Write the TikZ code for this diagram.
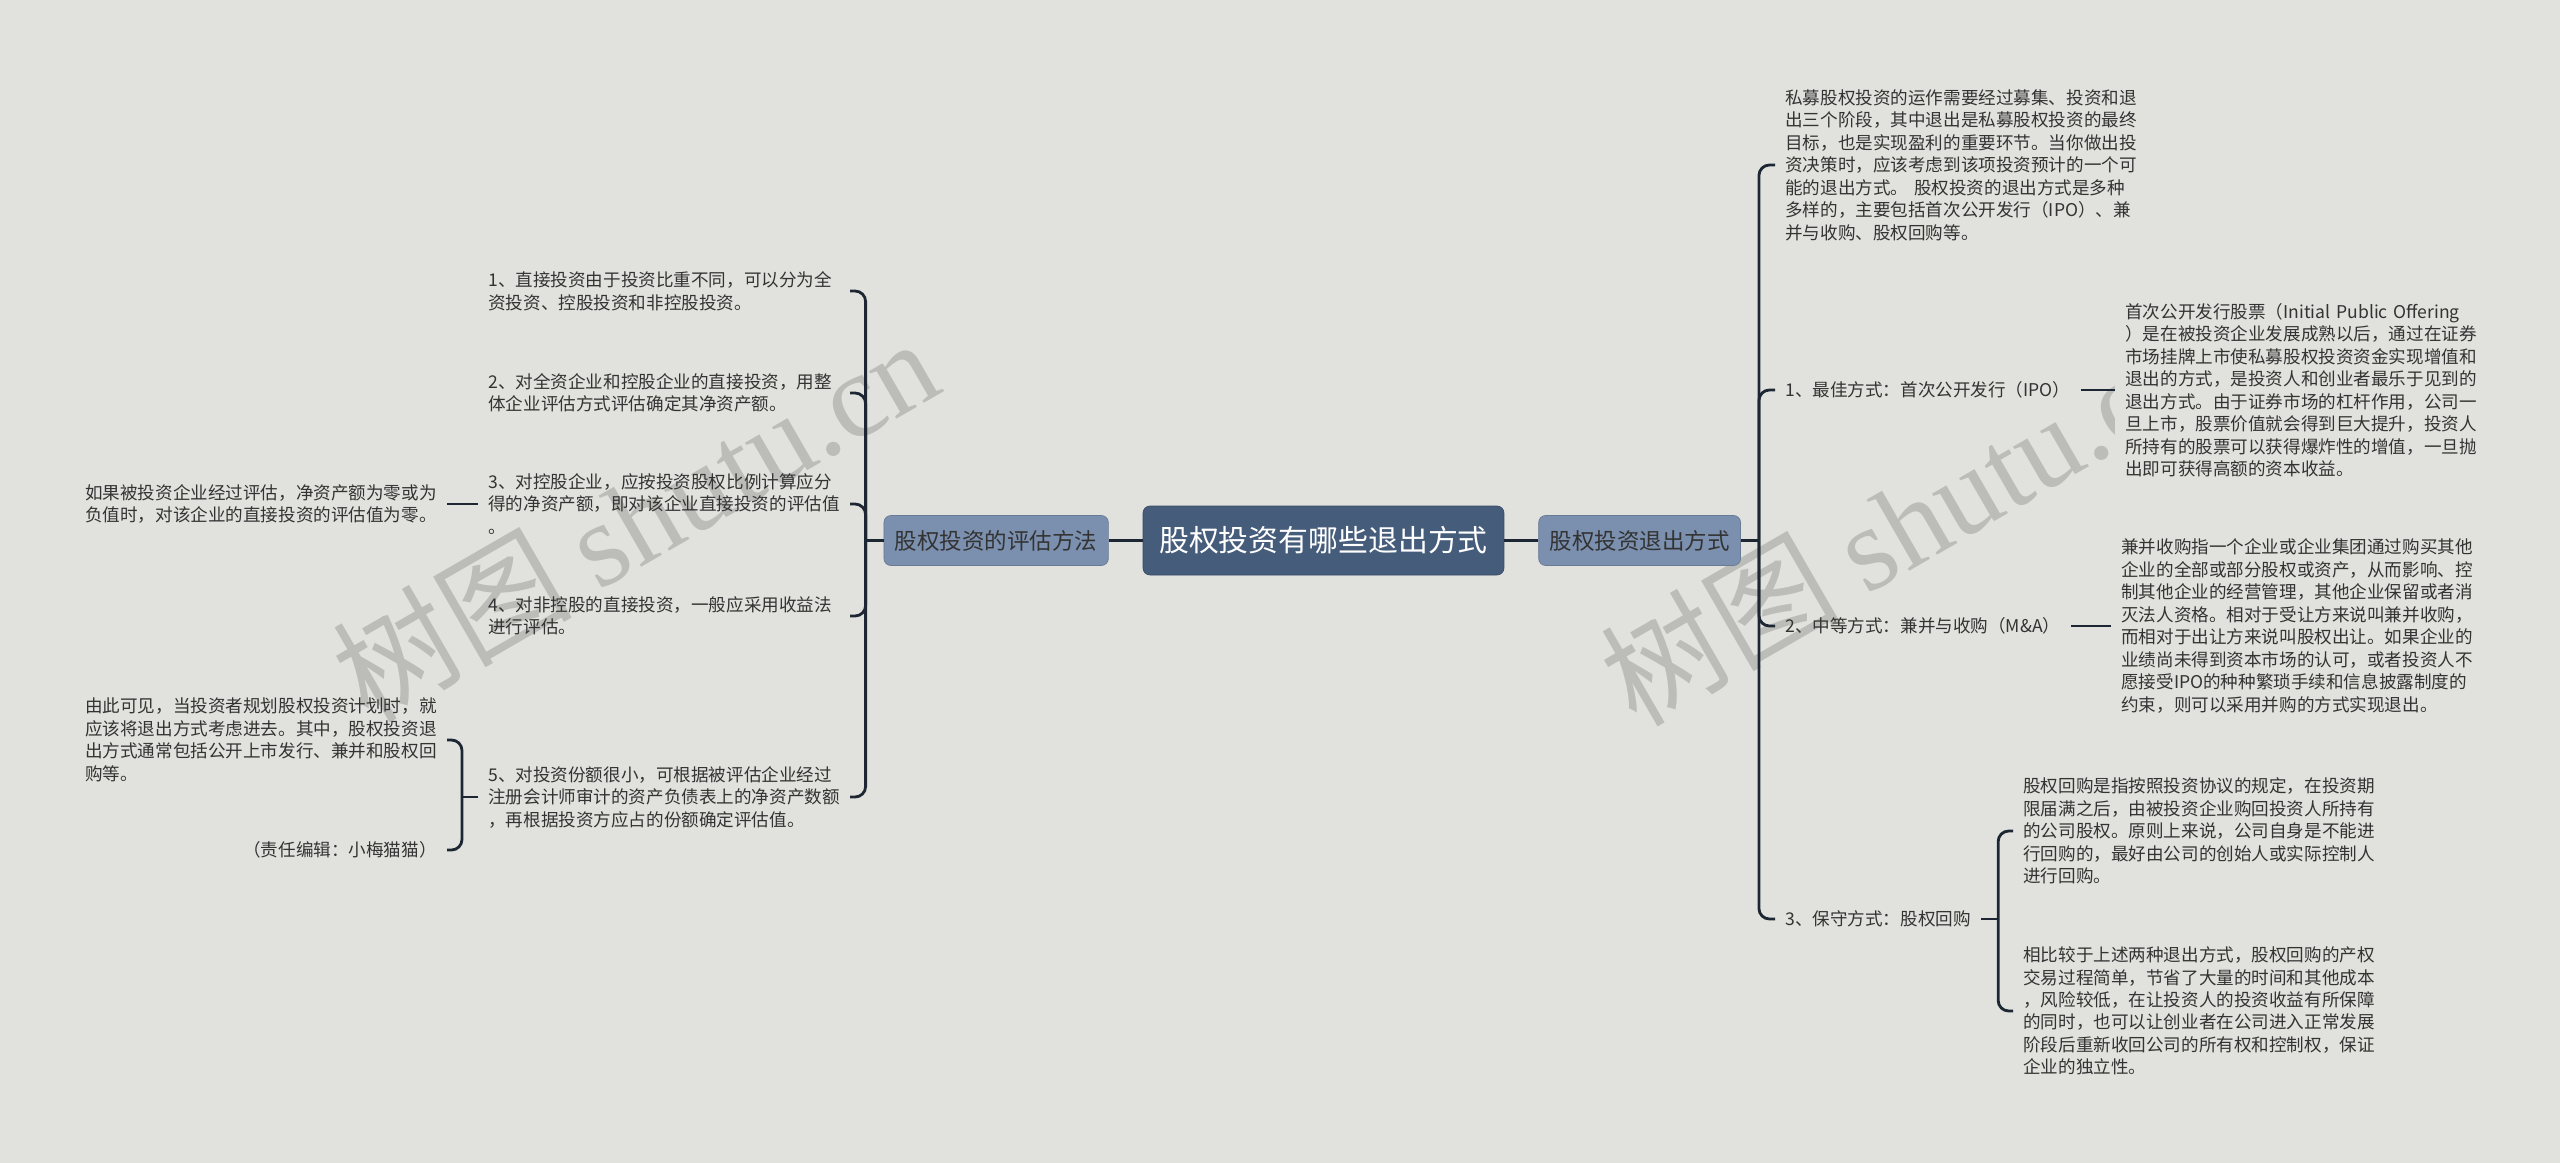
\documentclass[tikz,border=0pt]{standalone}
\usepackage{fontspec}
\setmainfont{Noto Sans CJK SC}
\newfontfamily\wmserif{Liberation Serif}
\usetikzlibrary{positioning}
\definecolor{bgcol}{HTML}{E1E2DD}
\definecolor{rootblue}{HTML}{455C7B}
\definecolor{subblue}{HTML}{7B8FAE}
\definecolor{linkdark}{HTML}{1D2733}
\definecolor{leaftext}{HTML}{333333}
\definecolor{wmgrey}{HTML}{BCBDB8}

\begin{document}
\begin{tikzpicture}[
    x=0.02cm, y=-0.02cm,
    root/.style={rectangle, rounded corners=4pt, draw=rootblue!80!black, fill=rootblue, text=white,
                 minimum width=7.22cm, minimum height=1.38cm, font=\fontsize{17}{20}\selectfont},
    sub/.style={rectangle, rounded corners=4pt, draw=subblue!85!black, fill=subblue, text=black!80,
                inner xsep=0.22cm, minimum height=1.0cm, font=\fontsize{12.8}{15}\selectfont},
    leaf/.style={inner xsep=0.2cm, inner ysep=2pt, text=leaftext, align=left,
                 font=\fontsize{10}{12.8}\selectfont},
    para/.style={leaf, text width=7.03cm},
    link/.style={draw=linkdark, line width=1.6pt, rounded corners=6pt},
    wmark/.style={inner sep=0pt, text=wmgrey, rotate=30, font=\fontsize{68}{68}\selectfont}
  ]
    \path[use as bounding box, fill=bgcol] (0,0) rectangle (2560,1163);
    \node[wmark] (wm1) at (635,518) {树图 {\wmserif shutu.cn}};
    \node[wmark] (wm2) at (1903,522) {树图 {\wmserif shutu.cn}};

    \node[root] (root) at (1323.5,540.5) {股权投资有哪些退出方式};
    \node[sub, left=0.68cm of root] (eval) {股权投资的评估方法};
    \node[sub, right=0.68cm of root] (exit) {股权投资退出方式};

    \node[para, anchor=west] (intro) at (1775,165) {私募股权投资的运作需要经过募集、投资和退\\出三个阶段，其中退出是私募股权投资的最终\\目标，也是实现盈利的重要环节。当你做出投\\资决策时，应该考虑到该项投资预计的一个可\\能的退出方式。~股权投资的退出方式是多种\\多样的，主要包括首次公开发行（IPO）、兼\\并与收购、股权回购等。};
    \node[leaf, anchor=west] (best) at (1775,390) {1、最佳方式：首次公开发行（IPO）};
    \node[para, anchor=west, fill=bgcol] (ipo) at (2115,390) {首次公开发行股票（Initial~Public~Offering\\）是在被投资企业发展成熟以后，通过在证券\\市场挂牌上市使私募股权投资资金实现增值和\\退出的方式，是投资人和创业者最乐于见到的\\退出方式。由于证券市场的杠杆作用，公司一\\旦上市，股票价值就会得到巨大提升，投资人\\所持有的股票可以获得爆炸性的增值，一旦抛\\出即可获得高额的资本收益。};
    \node[leaf, anchor=west] (mid) at (1775,626) {2、中等方式：兼并与收购（M\&A）};
    \node[para, anchor=west] (mna) at (2111,626) {兼并收购指一个企业或企业集团通过购买其他\\企业的全部或部分股权或资产，从而影响、控\\制其他企业的经营管理，其他企业保留或者消\\灭法人资格。相对于受让方来说叫兼并收购，\\而相对于出让方来说叫股权出让。如果企业的\\业绩尚未得到资本市场的认可，或者投资人不\\愿接受IPO的种种繁琐手续和信息披露制度的\\约束，则可以采用并购的方式实现退出。};
    \node[leaf, anchor=west] (safe) at (1775,919) {3、保守方式：股权回购};
    \node[para, anchor=west] (buyA) at (2013,831) {股权回购是指按照投资协议的规定，在投资期\\限届满之后，由被投资企业购回投资人所持有\\的公司股权。原则上来说，公司自身是不能进\\行回购的，最好由公司的创始人或实际控制人\\进行回购。};
    \node[para, anchor=west] (buyB) at (2013,1011) {相比较于上述两种退出方式，股权回购的产权\\交易过程简单，节省了大量的时间和其他成本\\，风险较低，在让投资人的投资收益有所保障\\的同时，也可以让创业者在公司进入正常发展\\阶段后重新收回公司的所有权和控制权，保证\\企业的独立性。};

    \node[para, anchor=west] (m1) at (478,291) {1、直接投资由于投资比重不同，可以分为全\\资投资、控股投资和非控股投资。};
    \node[para, anchor=west] (m2) at (478,393) {2、对全资企业和控股企业的直接投资，用整\\体企业评估方式评估确定其净资产额。};
    \node[para, anchor=west] (m3) at (478,504) {3、对控股企业，应按投资股权比例计算应分\\得的净资产额，即对该企业直接投资的评估值\\。};
    \node[para, anchor=west] (m4) at (478,616) {4、对非控股的直接投资，一般应采用收益法\\进行评估。};
    \node[para, anchor=west] (m5) at (478,797) {5、对投资份额很小，可根据被评估企业经过\\注册会计师审计的资产负债表上的净资产数额\\，再根据投资方应占的份额确定评估值。};
    \node[para, anchor=east] (zero) at (447,504) {如果被投资企业经过评估，净资产额为零或为\\负值时，对该企业的直接投资的评估值为零。};
    \node[para, anchor=east] (sum) at (447,740) {由此可见，当投资者规划股权投资计划时，就\\应该将退出方式考虑进去。其中，股权投资退\\出方式通常包括公开上市发行、兼并和股权回\\购等。};
    \node[leaf, anchor=east] (editor) at (447,850) {（责任编辑：小梅猫猫）};

    \coordinate (lj) at ([xshift=-0.36cm]eval.west);
    \coordinate (rj) at ([xshift=0.36cm]exit.east);
    \coordinate (sj) at ([xshift=0.34cm]safe.east);
    \coordinate (fj) at ([xshift=-0.32cm]m5.west);

    \draw[link] (root) -- (eval);
    \draw[link] (root) -- (exit);
    \draw[link] (eval) -- (lj);
    \draw[link] (exit) -- (rj);
    \foreach \n in {m1,m2,m3,m4,m5} \draw[link] (\n.east) -| (lj);
    \foreach \n in {intro,best,mid,safe} \draw[link] (rj) |- (\n.west);
    \draw[link] (best) -- (ipo);
    \draw[link] (mid) -- (mna);
    \draw[link] (safe) -- (sj);
    \foreach \n in {buyA,buyB} \draw[link] (sj) |- (\n.west);
    \draw[link] (zero) -- (m3);
    \draw[link] (m5) -- (fj);
    \foreach \n in {sum,editor} \draw[link] (fj) |- (\n.east);
  \end{tikzpicture}
\end{document}
